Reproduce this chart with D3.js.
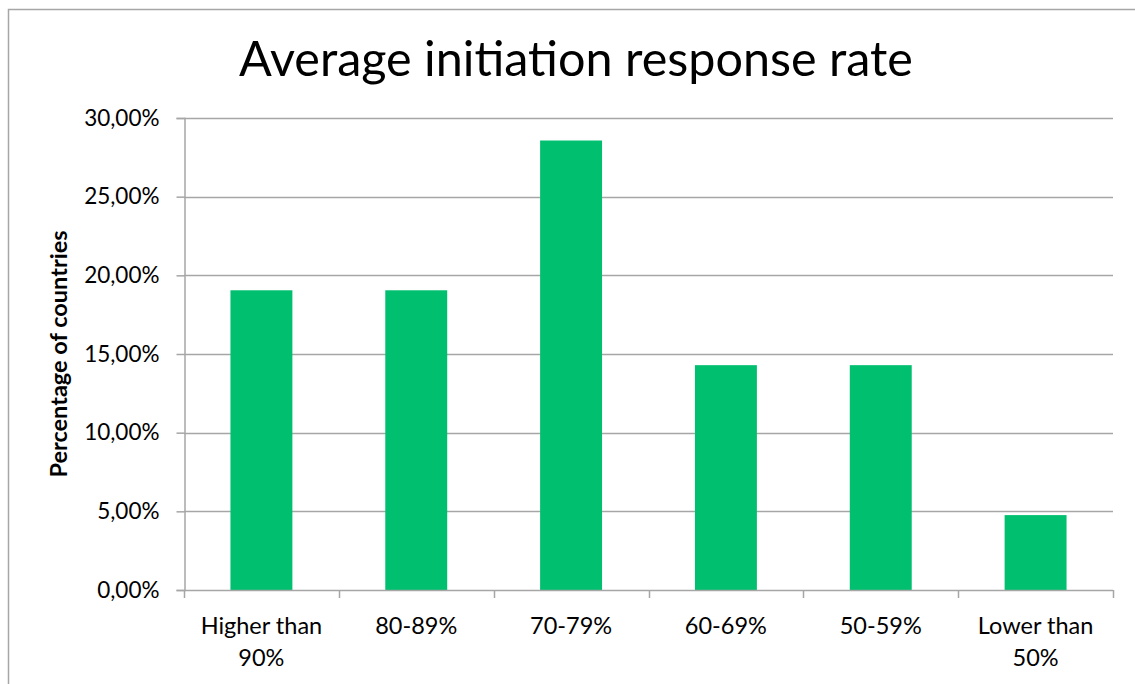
<!DOCTYPE html>
<html>
<head>
<meta charset="utf-8">
<script src="https://cdn.jsdelivr.net/npm/d3@7"></script>
<style>
  html, body { margin: 0; padding: 0; background: #fff; }
  svg { display: block; font-family: Lato, "Open Sans", sans-serif; }
</style>
</head>
<body>
<svg id="chart" width="1135" height="684"></svg>
<script>
// Response-rate bands and share of countries in each
const categories = [["Higher than", "90%"], ["80-89%"], ["70-79%"], ["60-69%"], ["50-59%"], ["Lower than", "50%"]];
const shares = [0.1905, 0.1905, 0.2857, 0.1429, 0.1429, 0.0476];
const yTicks = [0, 0.05, 0.10, 0.15, 0.20, 0.25, 0.30];

const svg = d3.select("#chart");
const W = 1135, H = 684;
const margin = { left: 184, right: 22, top: 118, bottom: 94 };
const gridColor = "#a6a6a6";

// Outer frame
svg.append("path")
  .attr("d", `M8.5,${H} V9.5 H${W}`)
  .attr("fill", "none").attr("stroke", gridColor).attr("stroke-width", 1.5);

const x = d3.scaleBand()
  .domain(categories.map((c, i) => i))
  .range([margin.left, W - margin.right])
  .paddingInner(0.6).paddingOuter(0.3);

const y = d3.scaleLinear().domain([0, 0.30]).range([H - margin.bottom, margin.top]);

const fmt = v => d3.format(".2f")(v * 100).replace(".", ",") + "%";

// Gridlines
svg.append("g").selectAll("line").data(yTicks.slice(1)).join("line")
  .attr("x1", margin.left).attr("x2", W - margin.right)
  .attr("y1", d => Math.round(y(d)) + 0.5).attr("y2", d => Math.round(y(d)) + 0.5)
  .attr("stroke", gridColor).attr("stroke-width", 1.5);

// Bars
svg.append("g").selectAll("rect").data(shares).join("rect")
  .attr("x", (d, i) => x(i))
  .attr("width", x.bandwidth())
  .attr("y", d => y(d))
  .attr("height", d => y(0) - y(d))
  .attr("fill", "#00bf6f");

// Y axis
const yAxis = svg.append("g")
  .attr("transform", `translate(${margin.left + 0.5},0)`)
  .call(d3.axisLeft(y).tickValues(yTicks).tickFormat(fmt).tickSize(8).tickPadding(17));
yAxis.select(".domain").attr("stroke", gridColor).attr("stroke-width", 1.5);
yAxis.selectAll(".tick line").attr("stroke", gridColor).attr("stroke-width", 1.5);
yAxis.selectAll(".tick text").attr("font-size", 22.5).attr("fill", "#000")
  .attr("font-family", "Lato, 'Open Sans', sans-serif");

// X axis baseline with boundary ticks between categories
const x0 = margin.left, x1 = W - margin.right;
const bounds = d3.range(categories.length + 1).map(i => x0 + i * (x1 - x0) / categories.length);
const xAxisG = svg.append("g");
xAxisG.append("line")
  .attr("x1", x0).attr("x2", x1)
  .attr("y1", Math.round(y(0)) + 0.5).attr("y2", Math.round(y(0)) + 0.5)
  .attr("stroke", gridColor).attr("stroke-width", 1.5);
xAxisG.selectAll("line.b").data(bounds).join("line").attr("class", "b")
  .attr("x1", d => Math.round(d) + 0.5).attr("x2", d => Math.round(d) + 0.5)
  .attr("y1", y(0)).attr("y2", y(0) + 8)
  .attr("stroke", gridColor).attr("stroke-width", 1.5);

// Category labels
const lbl = svg.append("g").selectAll("text").data(categories).join("text")
  .attr("x", (d, i) => x(i) + x.bandwidth() / 2)
  .attr("y", 634)
  .attr("text-anchor", "middle").attr("font-size", 23.5).attr("fill", "#000");
lbl.selectAll("tspan").data(d => d).join("tspan")
  .attr("x", function () { return d3.select(this.parentNode).attr("x"); })
  .attr("dy", (d, i) => i === 0 ? 0 : 32)
  .text(d => d);

// Title
svg.append("text")
  .attr("x", 576).attr("y", 76)
  .attr("text-anchor", "middle").attr("font-size", 48.5).attr("fill", "#000")
  .text("Average initiation response rate");

// Y axis title
svg.append("text")
  .attr("transform", `translate(67,${(y(0) + y(0.30)) / 2}) rotate(-90)`)
  .attr("text-anchor", "middle").attr("font-size", 23.5).attr("font-weight", "bold").attr("fill", "#000")
  .text("Percentage of countries");
</script>
</body>
</html>
